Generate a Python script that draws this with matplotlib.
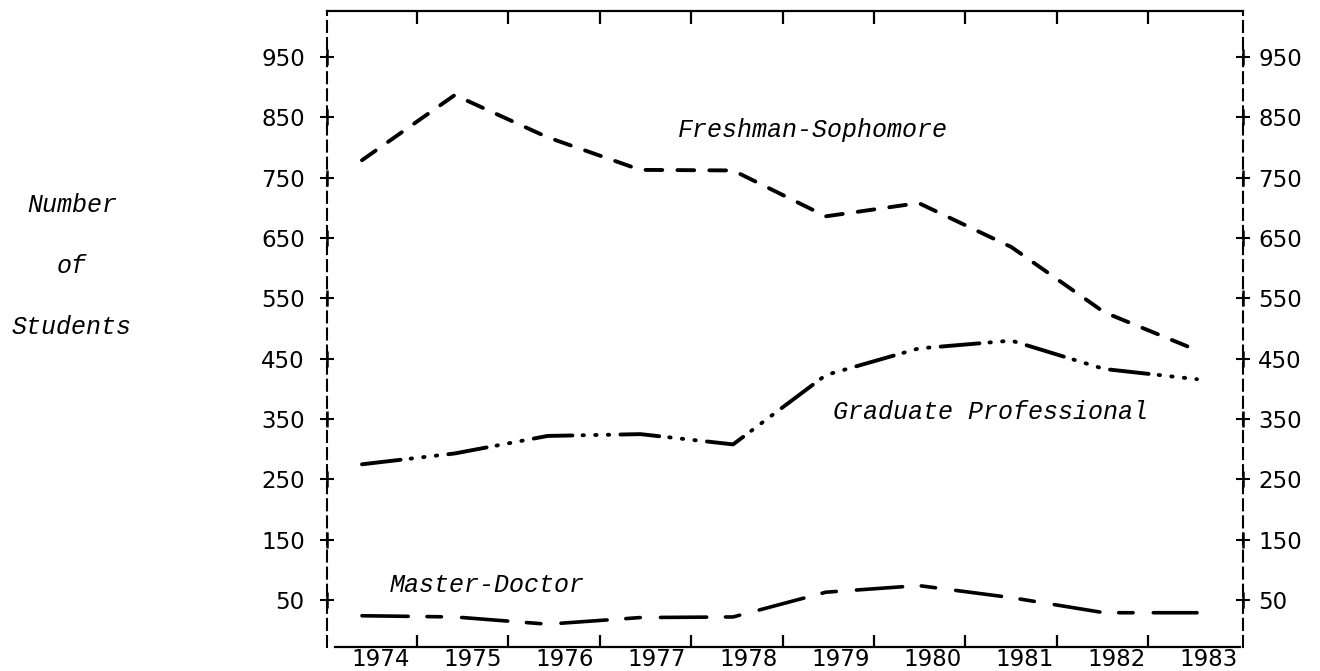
import matplotlib
matplotlib.use("Agg")
import matplotlib.pyplot as plt
import matplotlib.transforms as mtransforms
import numpy as np

# ---------------- data ----------------
years = [1974, 1975, 1976, 1977, 1978, 1979, 1980, 1981, 1982, 1983]
freshman_sophomore = [779, 887, 817, 763, 762, 686, 708, 635, 527, 464]
graduate_professional = [275, 293, 322, 325, 308, 423, 467, 480, 433, 416]
master_doctor = [24, 22, 10, 21, 22, 63, 74, 54, 29, 29]
y_ticks = [50, 150, 250, 350, 450, 550, 650, 750, 850, 950]
year_labels = [str(y) for y in years]
series_names = ["Freshman-Sophomore", "Graduate Professional", "Master-Doctor"]
y_title = ["Number", "of", "Students"]

# ---------------- layout ----------------
W, H = 1320, 671
fig = plt.figure(figsize=(W / 100, H / 100), dpi=100)
ax = fig.add_axes([327 / W, 1 - 647 / H, (1243 - 327) / W, (647 - 11) / H])
ax.set_xlim(1973.623, 1983.496)
ax.set_ylim(-27.8, 1026.3)

# x: tick marks between years (major, unlabeled) and year labels (minor, no tick)
tick_pos = 1974.593 + 0.9851 * np.arange(len(years) - 1)
label_pos = 1974.205 + 0.9905 * np.arange(len(years))
ax.set_xticks(tick_pos)
ax.set_xticklabels([])
ax.set_xticks(label_pos, minor=True)
ax.set_xticklabels(year_labels, minor=True)
ax.tick_params(axis="x", which="major", direction="in", length=9, width=1.6,
               top=True, bottom=True, color="black")
ax.tick_params(axis="x", which="minor", length=0, pad=1, labelsize=16.5,
               labelcolor="black")

# y: crosses on both dashed spines
ax.set_yticks(y_ticks)
ax.set_yticklabels([str(v) for v in y_ticks])
ax.tick_params(axis="y", which="major", direction="inout", length=10, width=1.5,
               left=True, right=False, pad=11, labelsize=16.5)
ax2 = ax.twinx()
ax2.set_ylim(ax.get_ylim())
ax2.set_yticks(y_ticks)
ax2.set_yticklabels([str(v) for v in y_ticks])
ax2.tick_params(axis="y", which="major", direction="inout", length=10, width=1.5,
                right=True, pad=6, labelsize=16.5)
for s in ax2.spines.values():
    s.set_visible(False)

blend = mtransforms.blended_transform_factory(ax.transAxes, ax.transData)
for xf in (0, 1):
    ax.plot([xf] * len(y_ticks), y_ticks, transform=blend, ls="none",
            marker="|", ms=11, mew=1.8, color="black", clip_on=False, zorder=5)

# spines
for side in ("left", "right"):
    ax.spines[side].set_linestyle((0, (5.3, 2.9)))
    ax.spines[side].set_linewidth(1.5)
for side in ("top", "bottom"):
    ax.spines[side].set_linewidth(1.6)
ax.spines["bottom"].set_bounds(1973.71, 1983.46)

# ---------------- series ----------------
ax.plot(years, freshman_sophomore, color="black", lw=2.8,
        linestyle=(0, (4.3, 3.9)), dash_capstyle="round", clip_on=False)
ax.plot(years, graduate_professional, color="black", lw=2.8,
        linestyle=(0, (10.0, 2.6, 0.35, 2.9, 0.35, 2.9, 0.35, 2.9)),
        dash_capstyle="round", clip_on=False)
ax.plot(years, master_doctor, color="black", lw=2.6,
        linestyle=(0, (12.8, 5.2, 4.0, 5.6)), dash_capstyle="round", clip_on=False)

# typewriter-like (monospaced) italic labels
lab_font = dict(family="Liberation Mono", style="italic", fontsize=18, color="black")

ax.text(1977.40, 829, series_names[0], ha="left", va="center", **lab_font)
ax.text(1979.08, 362, series_names[1], ha="left", va="center", **lab_font)
ax.text(1974.30, 75, series_names[2], ha="left", va="center", **lab_font)

# y title, stacked words
for word, ypx in zip(y_title, (205, 266, 327)):
    fig.text(72 / W, 1 - ypx / H, word, ha="center", va="center", **lab_font)

fig.savefig("out.png", dpi=100)
